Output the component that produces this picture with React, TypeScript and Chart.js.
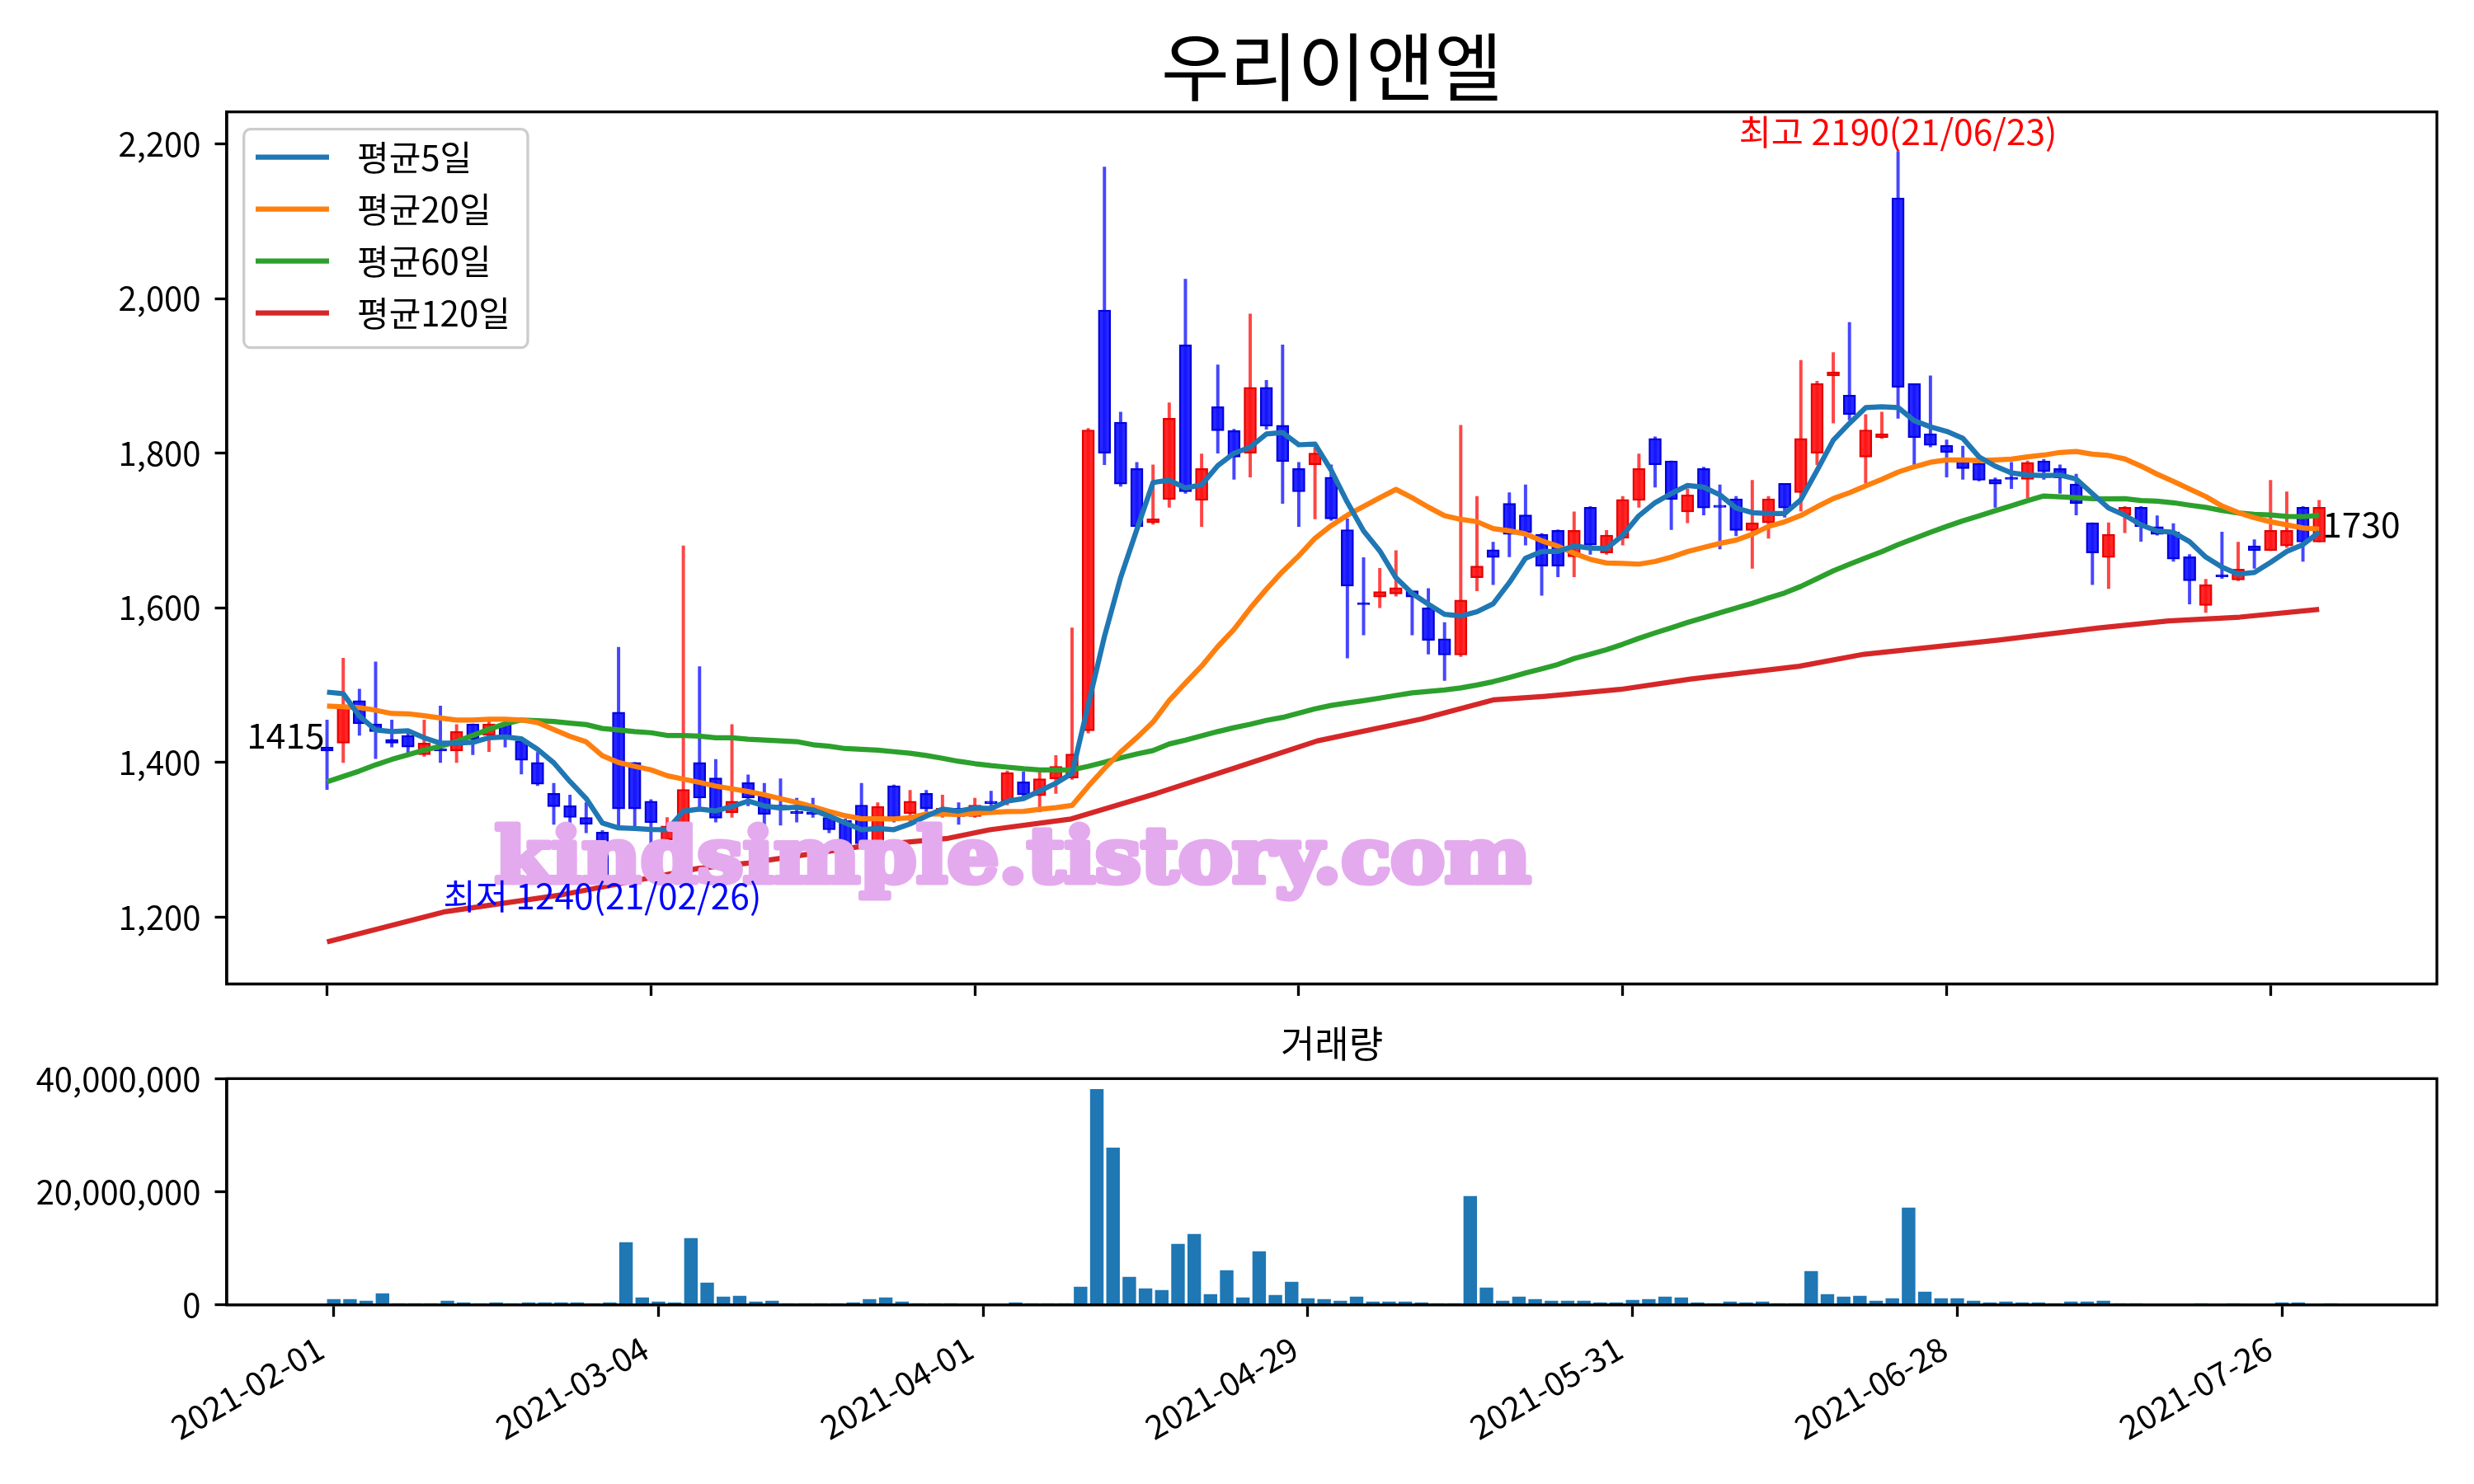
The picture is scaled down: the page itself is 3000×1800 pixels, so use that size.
import React, { useEffect, useRef } from 'react';
import { Chart, registerables } from 'chart.js';

Chart.register(...registerables);

const FONT = "'Noto Sans CJK KR', 'Noto Sans', sans-serif";

const chartTitle = '우리이앤엘';
const volumeTitle = '거래량';
const watermark = 'kindsimple.tistory.com';

const tickIndex = [0, 20, 40, 60, 80, 100, 120];
const tickLabels = ['2021-02-01', '2021-03-04', '2021-04-01', '2021-04-29', '2021-05-31', '2021-06-28', '2021-07-26'];
const priceTicks = [1200, 1400, 1600, 1800, 2000, 2200];
const volumeTicks = [0, 20000000, 40000000];

const opens = [
  1420, 1425, 1480, 1450, 1430, 1435, 1410, 1416, 1415, 1450,
  1435, 1450, 1428, 1400, 1360, 1344, 1329, 1310, 1465, 1400,
  1350, 1300, 1312, 1400, 1380, 1335, 1374, 1357, 1345, 1336,
  1336, 1329, 1325, 1345, 1295, 1370, 1334, 1360, 1334, 1341,
  1330, 1350, 1350, 1375, 1357, 1379, 1380, 1441, 1985, 1840,
  1780, 1710, 1740, 1940, 1739, 1860, 1829, 1800, 1885, 1836,
  1780, 1785, 1769, 1701, 1605, 1614, 1618, 1622, 1600, 1560,
  1539, 1639, 1675, 1735, 1720, 1695, 1700, 1666, 1730, 1671,
  1690, 1739, 1819, 1790, 1724, 1780, 1732, 1741, 1700, 1710,
  1761, 1749, 1800, 1900, 1875, 1795, 1820, 2130, 1890, 1825,
  1810, 1790, 1787, 1766, 1768, 1766, 1790, 1780, 1760, 1710,
  1665, 1720, 1730, 1705, 1698, 1666, 1603, 1642, 1636, 1680,
  1674, 1680, 1730, 1685,
];
const highs = [
  1455, 1535, 1495, 1530, 1455, 1440, 1455, 1473, 1449, 1450,
  1455, 1455, 1428, 1413, 1373, 1358, 1348, 1312, 1549, 1400,
  1352, 1329, 1680, 1524, 1404, 1449, 1384, 1373, 1379, 1354,
  1354, 1331, 1327, 1373, 1348, 1371, 1364, 1364, 1358, 1348,
  1354, 1363, 1389, 1388, 1387, 1409, 1574, 1832, 2170, 1853,
  1788, 1785, 1865, 2025, 1799, 1914, 1831, 1980, 1894, 1940,
  1788, 1807, 1785, 1715, 1665, 1651, 1674, 1622, 1625, 1581,
  1836, 1744, 1685, 1749, 1759, 1696, 1701, 1724, 1731, 1700,
  1744, 1799, 1821, 1790, 1754, 1782, 1759, 1744, 1765, 1744,
  1761, 1920, 1893, 1930, 1969, 1850, 1853, 2190, 1890, 1900,
  1817, 1809, 1788, 1768, 1788, 1790, 1792, 1785, 1773, 1710,
  1710, 1731, 1731, 1719, 1709, 1669, 1637, 1698, 1685, 1688,
  1765, 1750, 1731, 1739,
];
const lows = [
  1365, 1400, 1435, 1405, 1420, 1410, 1408, 1400, 1400, 1410,
  1414, 1420, 1385, 1370, 1320, 1297, 1309, 1240, 1318, 1318,
  1295, 1295, 1305, 1341, 1323, 1329, 1344, 1319, 1319, 1323,
  1329, 1309, 1288, 1288, 1290, 1323, 1323, 1335, 1329, 1320,
  1329, 1339, 1345, 1353, 1336, 1360, 1378, 1438, 1785, 1757,
  1703, 1708, 1730, 1748, 1705, 1800, 1766, 1769, 1831, 1735,
  1705, 1715, 1713, 1535, 1565, 1600, 1615, 1565, 1540, 1506,
  1537, 1622, 1630, 1666, 1681, 1616, 1640, 1640, 1669, 1669,
  1681, 1730, 1756, 1701, 1710, 1720, 1676, 1693, 1651, 1690,
  1717, 1725, 1785, 1839, 1843, 1761, 1819, 1845, 1785, 1808,
  1769, 1766, 1764, 1730, 1754, 1742, 1766, 1748, 1720, 1630,
  1625, 1697, 1686, 1694, 1660, 1605, 1594, 1638, 1635, 1651,
  1674, 1678, 1660, 1685,
];
const closes = [
  1415, 1470, 1450, 1440, 1425, 1420, 1425, 1415, 1440, 1430,
  1450, 1430, 1403, 1372, 1343, 1329, 1320, 1245, 1340, 1340,
  1322, 1318, 1365, 1354, 1328, 1350, 1354, 1333, 1340, 1334,
  1333, 1313, 1290, 1295, 1343, 1325, 1350, 1340, 1341, 1330,
  1345, 1347, 1387, 1358, 1379, 1395, 1411, 1830, 1800, 1760,
  1705, 1715, 1845, 1750, 1780, 1829, 1795, 1885, 1835, 1789,
  1750, 1800, 1715, 1628, 1604, 1621, 1626, 1614, 1558, 1539,
  1610, 1654, 1665, 1695, 1697, 1654, 1654, 1700, 1681, 1694,
  1740, 1780, 1785, 1740, 1746, 1729, 1730, 1700, 1710, 1741,
  1729, 1819, 1890, 1905, 1850, 1830, 1825, 1885, 1820, 1810,
  1801, 1780, 1765, 1760, 1766, 1788, 1776, 1768, 1735, 1671,
  1695, 1730, 1705, 1695, 1663, 1635, 1630, 1640, 1650, 1674,
  1700, 1700, 1685, 1730,
];
const volumes = [
  970000, 970000, 680000, 2000000, 240000, 240000, 240000, 680000, 390000, 240000,
  390000, 240000, 390000, 390000, 390000, 390000, 240000, 390000, 11030000, 1260000,
  530000, 390000, 11760000, 3890000, 1410000, 1560000, 530000, 680000, 240000, 240000,
  240000, 240000, 390000, 970000, 1260000, 530000, 240000, 240000, 240000, 100000,
  100000, 100000, 390000, 240000, 240000, 240000, 3160000, 38150000, 27800000, 4910000,
  2870000, 2580000, 10740000, 12490000, 1850000, 6080000, 1260000, 9430000, 1700000, 4030000,
  1120000, 970000, 680000, 1410000, 530000, 530000, 530000, 390000, 240000, 240000,
  19200000, 3010000, 680000, 1410000, 970000, 680000, 680000, 680000, 390000, 390000,
  830000, 970000, 1410000, 1260000, 390000, 240000, 530000, 390000, 530000, 240000,
  240000, 5930000, 1850000, 1410000, 1560000, 680000, 1120000, 17160000, 2280000, 1120000,
  1120000, 680000, 390000, 530000, 390000, 390000, 240000, 530000, 530000, 680000,
  240000, 240000, 100000, 100000, 100000, 240000, 100000, 240000, 100000, 100000,
  390000, 390000, 100000, 240000,
];
const ma5 = [
  1491, 1489, 1460, 1442, 1440, 1441, 1432, 1425, 1425, 1426,
  1432, 1433, 1430.6, 1417, 1399.6, 1375.4, 1353.4, 1321.8, 1315.4, 1314.8,
  1313.4, 1313, 1337, 1339.8, 1337.4, 1343, 1350.2, 1343.8, 1341, 1342.2,
  1338.8, 1330.6, 1322, 1313, 1314.8, 1313.2, 1320.6, 1330.6, 1339.8, 1337.2,
  1341.2, 1340.6, 1350, 1353.4, 1363.2, 1373.2, 1386, 1474.6, 1563, 1639.2,
  1701.2, 1762, 1765, 1755, 1759, 1783.8, 1799.8, 1807.8, 1824.8, 1826.6,
  1810.8, 1811.8, 1777.8, 1736.4, 1699.4, 1673.6, 1638.8, 1618.6, 1604.6, 1591.6,
  1589.4, 1595, 1605.2, 1632.6, 1664.2, 1673, 1673, 1680, 1677.2, 1676.6,
  1693.8, 1719, 1736, 1747.8, 1758.2, 1756, 1746, 1729, 1723, 1722,
  1722, 1739.8, 1777.8, 1816.8, 1838.6, 1858.8, 1860, 1859, 1842, 1834,
  1828.2, 1819.2, 1795.2, 1783.2, 1774.4, 1771.8, 1771, 1771.6, 1766.6, 1747.6,
  1729, 1719.8, 1707.2, 1699.2, 1697.6, 1685.6, 1665.6, 1652.6, 1643.6, 1645.8,
  1658.8, 1672.8, 1681.8, 1697.8,
];
const ma20 = [
  1473, 1472, 1471, 1467.6, 1463.3, 1463, 1460.4, 1457.6, 1455, 1455,
  1456, 1456, 1455, 1451.6, 1442.7, 1433.8, 1426.7, 1408.9, 1400, 1395.1,
  1390.5, 1382.9, 1378.6, 1374.3, 1369.5, 1366, 1362.4, 1358.3, 1353.3, 1348.5,
  1342.7, 1336.8, 1331.2, 1327.3, 1327.3, 1327.1, 1328.6, 1333.4, 1333.4, 1332.9,
  1334.1, 1335.5, 1336.6, 1336.8, 1339.4, 1341.6, 1344.5, 1369.3, 1392.3, 1413.6,
  1432.2, 1452.3, 1480.1, 1502.8, 1524.7, 1549.9, 1572.1, 1599.4, 1624.1, 1647,
  1667.3, 1689.9, 1706.3, 1719.8, 1731.1, 1742.4, 1753.1, 1742.3, 1730.2, 1719.2,
  1714.4, 1711.4, 1702.4, 1699.6, 1695.5, 1686.7, 1679.7, 1670.4, 1662.7, 1658,
  1657.5, 1656.5, 1660, 1665.6, 1672.7, 1678.1, 1683.3, 1687.6, 1695.2, 1705.3,
  1711.2, 1719.5, 1730.7, 1741.2, 1748.9, 1757.7, 1766.2, 1775.5, 1782.4, 1788.2,
  1791.3, 1791.3, 1790.3, 1791.3, 1792.3, 1795.2, 1797.5, 1800.9, 1802.2, 1798.7,
  1797, 1792.5, 1783.3, 1772.8, 1763.4, 1753.7, 1743.9, 1731.7, 1723.2, 1716.4,
  1711.3, 1707.3, 1703.3, 1701.8,
];
const ma60 = [
  1375, 1382, 1389, 1397, 1404, 1410, 1416, 1421, 1427, 1435,
  1443, 1450, 1455, 1454, 1453, 1451, 1449, 1444, 1442, 1440,
  1438.5, 1435, 1435, 1434, 1432, 1432, 1430, 1429, 1428, 1427,
  1423, 1421, 1418, 1417, 1416, 1414, 1412, 1409, 1405.5, 1401.5,
  1398.5, 1396, 1394, 1392, 1390.5, 1390.5, 1390.5, 1395, 1400.5, 1406,
  1411, 1415.5, 1424, 1429, 1434.5, 1440, 1445, 1449.5, 1454.5, 1458.3,
  1463.9, 1469.4, 1473.8, 1477, 1480, 1483.3, 1486.7, 1490, 1491.9, 1493.8,
  1496.4, 1500.2, 1504.5, 1509.9, 1515.8, 1521.2, 1526.8, 1534.4, 1540.1, 1546,
  1552.9, 1560.6, 1567.6, 1574.1, 1581, 1587.3, 1593.6, 1599.7, 1605.9, 1612.7,
  1619.3, 1627.7, 1637.7, 1647.9, 1656.3, 1664.7, 1672.7, 1681.7, 1689.7, 1697.7,
  1705.3, 1712.5, 1718.8, 1725.5, 1732, 1738.5, 1744.6, 1743.6, 1742.5, 1741,
  1740.9, 1741.1, 1738.8, 1737.9, 1735.9, 1732.7, 1729.9, 1725.8, 1722.8, 1720.8,
  1720, 1718.3, 1717.8, 1719.5,
];
const ma120Idx = [0, 7.2, 10.5, 14.5, 20.2, 22.9, 26, 33, 38.35, 40.9, 45.95, 51.2, 56.2, 61.15, 67.6, 72, 75.2, 79.85, 84.2, 90.9, 94.9, 103.2, 109.4, 113.7, 118.1, 123];
const ma120 = [1168, 1206.7, 1217, 1229, 1252, 1263, 1270, 1291.6, 1302, 1313, 1327, 1360, 1394, 1428, 1456.3, 1480.9, 1485.6, 1494.5, 1508, 1524.4, 1540, 1558.4, 1574, 1583, 1588, 1598];

const maNames = ['평균5일', '평균20일', '평균60일', '평균120일'];
const maColors = ['#1f77b4', '#ff7f0e', '#2ca02c', '#d62728'];

const highNote = { index: 97, value: 2190, text: '최고 2190(21/06/23)' };
const lowNote = { index: 17, value: 1240, text: '최저 1240(21/02/26)' };
const firstNote = { index: 0, value: 1415, text: '1415' };
const lastNote = { index: 123, value: 1730, text: '1730' };

const LW = 3.3;

function framePlugin(id: string, titleText: string, titleSize: number, titleY: number) {
  return {
    id,
    afterDraw(chart: any) {
      const { ctx, chartArea: a } = chart;
      ctx.save();
      ctx.strokeStyle = '#000';
      ctx.lineWidth = LW;
      ctx.strokeRect(a.left, a.top, a.right - a.left, a.bottom - a.top);
      ctx.font = `${titleSize}px ${FONT}`;
      ctx.fillStyle = '#000';
      ctx.textAlign = 'center';
      ctx.textBaseline = 'middle';
      ctx.fillText(titleText, (a.left + a.right) / 2, titleY);
      ctx.restore();
    },
  };
}

const priceDecor = {
  id: 'priceDecor',
  afterDatasetsDraw(chart: any) {
    const { ctx, chartArea: a, scales } = chart;
    const xs = scales.x;
    const ys = scales.y;
    ctx.save();
    ctx.font = "bold 91px 'DejaVu Serif'";
    const tw = ctx.measureText(watermark).width;
    ctx.translate(a.left + 325, a.top + 934.3);
    ctx.scale(1256 / tw, 1);
    ctx.fillStyle = '#e4aaee';
    ctx.strokeStyle = '#e4aaee';
    ctx.lineWidth = 7;
    ctx.lineJoin = 'round';
    ctx.textAlign = 'left';
    ctx.textBaseline = 'alphabetic';
    ctx.strokeText(watermark, 0, 0);
    ctx.fillText(watermark, 0, 0);
    ctx.restore();

    ctx.save();
    ctx.font = `42.5px ${FONT}`;
    ctx.textBaseline = 'alphabetic';
    ctx.fillStyle = '#ff0000';
    ctx.textAlign = 'center';
    ctx.fillText(highNote.text, xs.getPixelForValue(highNote.index), ys.getPixelForValue(highNote.value) - 8);
    ctx.fillStyle = '#0000ff';
    ctx.fillText(lowNote.text, xs.getPixelForValue(lowNote.index), ys.getPixelForValue(lowNote.value) + 28);
    ctx.fillStyle = '#000';
    ctx.textAlign = 'right';
    ctx.fillText(firstNote.text, xs.getPixelForValue(firstNote.index) - 3, ys.getPixelForValue(firstNote.value) - 3);
    ctx.textAlign = 'left';
    ctx.fillText(lastNote.text, xs.getPixelForValue(lastNote.index) + 4, ys.getPixelForValue(lastNote.value) + 37);
    ctx.restore();
  },
  afterDraw(chart: any) {
    const { ctx, chartArea: a } = chart;
    const lx = a.left + 20.7;
    const ly = a.top + 21;
    const lw = 344.3;
    const lh = 265;
    const r = 8;
    ctx.save();
    ctx.beginPath();
    ctx.moveTo(lx + r, ly);
    ctx.arcTo(lx + lw, ly, lx + lw, ly + lh, r);
    ctx.arcTo(lx + lw, ly + lh, lx, ly + lh, r);
    ctx.arcTo(lx, ly + lh, lx, ly, r);
    ctx.arcTo(lx, ly, lx + lw, ly, r);
    ctx.closePath();
    ctx.fillStyle = 'rgba(255,255,255,0.8)';
    ctx.fill();
    ctx.strokeStyle = '#cccccc';
    ctx.lineWidth = LW;
    ctx.stroke();
    ctx.font = `42px ${FONT}`;
    ctx.textBaseline = 'middle';
    ctx.textAlign = 'left';
    maNames.forEach((name, k) => {
      const y = ly + 34 + 63 * k;
      ctx.beginPath();
      ctx.moveTo(lx + 14.3, y);
      ctx.lineTo(lx + 103.3, y);
      ctx.strokeStyle = maColors[k];
      ctx.lineWidth = 6.25;
      ctx.stroke();
      ctx.fillStyle = '#000';
      ctx.fillText(name, lx + 137.3, y);
    });
    ctx.restore();
  },
};

const axisGrid = {
  display: true,
  drawOnChartArea: false,
  drawTicks: true,
  tickLength: 14.5,
  tickWidth: LW,
  color: '#000',
  offset: false,
};
const axisBorder = { display: true, color: '#000', width: LW };

export default function App() {
  const priceRef = useRef<HTMLCanvasElement>(null);
  const volRef = useRef<HTMLCanvasElement>(null);

  useEffect(() => {
    Chart.defaults.font.family = FONT;
    Chart.defaults.color = '#000';
    const idx = closes.map((_, i) => i);
    const up = closes.map((c, i) => c >= opens[i]);
    const bodyFill = up.map((u) => (u ? 'rgba(255,20,20,0.92)' : 'rgba(20,20,255,0.92)'));
    const bodyEdge = up.map((u) => (u ? 'rgba(225,0,0,1)' : 'rgba(0,0,215,1)'));
    const wickColor = up.map((u) => (u ? 'rgba(255,50,50,0.9)' : 'rgba(50,50,255,0.9)'));
    const maSeries = [
      ma5.map((v, i) => ({ x: i, y: v })),
      ma20.map((v, i) => ({ x: i, y: v })),
      ma60.map((v, i) => ({ x: i, y: v })),
      ma120.map((v, i) => ({ x: ma120Idx[i], y: v })),
    ];

    const price = new Chart(priceRef.current as HTMLCanvasElement, {
      type: 'bar',
      data: {
        datasets: [
          ...maSeries.map((s, k) => ({
            type: 'line',
            label: maNames[k],
            data: s,
            borderColor: maColors[k],
            backgroundColor: maColors[k],
            borderWidth: 6.25,
            pointRadius: 0,
            tension: 0,
            borderJoinStyle: 'round',
            order: k,
          })),
          {
            type: 'bar',
            label: 'body',
            data: idx.map((i) => ({ x: i, y: [Math.min(opens[i], closes[i]), Math.max(opens[i], closes[i])] })),
            backgroundColor: bodyFill,
            borderColor: bodyEdge,
            borderWidth: 2,
            borderSkipped: false,
            barThickness: 15,
            minBarLength: 2.5,
            grouped: false,
            order: 10,
          },
          {
            type: 'bar',
            label: 'wick',
            data: idx.map((i) => ({ x: i, y: [lows[i], highs[i]] })),
            backgroundColor: wickColor,
            borderWidth: 0,
            barThickness: 3.3,
            grouped: false,
            order: 11,
          },
        ],
      } as any,
      options: {
        responsive: false,
        animation: false,
        events: [],
        layout: { padding: { left: 0, right: 45, top: 135.7, bottom: 6.6 } },
        plugins: {
          legend: { display: false },
          tooltip: { enabled: false },
          title: { display: false },
        },
        scales: {
          x: {
            type: 'linear',
            min: -6.19,
            max: 130.27,
            offset: false,
            afterBuildTicks: (s: any) => {
              s.ticks = tickIndex.map((v) => ({ value: v }));
            },
            afterFit: (s: any) => {
              s.height = 60;
            },
            ticks: { display: false },
            grid: axisGrid,
            border: axisBorder,
          },
          y: {
            type: 'linear',
            min: 1113.75,
            max: 2241.25,
            beginAtZero: false,
            afterBuildTicks: (s: any) => {
              s.ticks = priceTicks.map((v) => ({ value: v }));
            },
            afterFit: (s: any) => {
              s.width = 275;
            },
            ticks: {
              font: { size: 40, family: FONT },
              color: '#000',
              padding: 17,
              callback: (v: any) => Number(v).toLocaleString('en-US'),
            },
            grid: axisGrid,
            border: axisBorder,
          },
        },
      } as any,
      plugins: [priceDecor, framePlugin('priceFrame', chartTitle, 90, 81)],
    });

    const vol = new Chart(volRef.current as HTMLCanvasElement, {
      type: 'bar',
      data: {
        datasets: [
          {
            label: volumeTitle,
            data: idx.map((i) => ({ x: i, y: volumes[i] })),
            backgroundColor: '#1f77b4',
            borderWidth: 0,
            barThickness: 15.75,
            grouped: false,
          },
        ],
      } as any,
      options: {
        responsive: false,
        animation: false,
        events: [],
        layout: { padding: { left: 0, right: 45, top: 108.3, bottom: 37.3 } },
        plugins: {
          legend: { display: false },
          tooltip: { enabled: false },
          title: { display: false },
        },
        scales: {
          x: {
            type: 'linear',
            min: -6.59,
            max: 129.54,
            offset: false,
            afterBuildTicks: (s: any) => {
              s.ticks = tickIndex.map((v) => ({ value: v }));
            },
            afterFit: (s: any) => {
              s.height = 180;
            },
            ticks: {
              display: true,
              autoSkip: false,
              minRotation: 30,
              maxRotation: 30,
              padding: 14,
              labelOffset: -16,
              font: { size: 40, family: FONT },
              color: '#000',
              callback: (v: any) => {
                const k = tickIndex.indexOf(Number(v));
                return k >= 0 ? tickLabels[k] : '';
              },
            },
            grid: axisGrid,
            border: axisBorder,
          },
          y: {
            type: 'linear',
            min: 0,
            max: 40060000,
            afterBuildTicks: (s: any) => {
              s.ticks = volumeTicks.map((v) => ({ value: v }));
            },
            afterFit: (s: any) => {
              s.width = 275;
            },
            ticks: {
              font: { size: 40, family: FONT },
              color: '#000',
              padding: 17,
              callback: (v: any) => Number(v).toLocaleString('en-US'),
            },
            grid: axisGrid,
            border: axisBorder,
          },
        },
      } as any,
      plugins: [framePlugin('volFrame', volumeTitle, 45, 66)],
    });

    return () => {
      price.destroy();
      vol.destroy();
    };
  }, []);

  return (
    <div style={{ position: 'absolute', left: 0, top: 0, width: 3000, height: 1800, background: '#ffffff' }}>
      <canvas
        ref={priceRef}
        width={3000}
        height={1260}
        style={{ position: 'absolute', left: 0, top: 0, width: 3000, height: 1260 }}
      />
      <canvas
        ref={volRef}
        width={3000}
        height={600}
        style={{ position: 'absolute', left: 0, top: 1200, width: 3000, height: 600 }}
      />
    </div>
  );
}
